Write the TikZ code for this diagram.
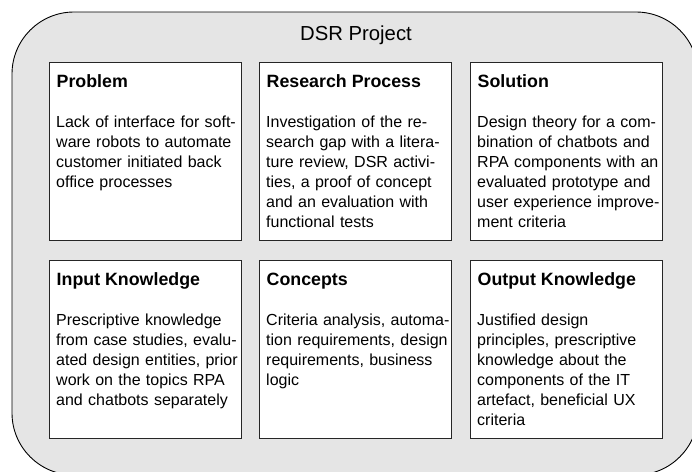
\documentclass[tikz,border=0pt]{standalone}
\usepackage{fontspec}
\setmainfont{Liberation Sans}
\begin{document}
\begin{tikzpicture}[x=1pt,y=-1pt,
  frame/.style={draw=black,line width=0.9pt,fill=black!10,rounded corners=62pt},
  panel/.style={draw=black!85,line width=1pt,fill=white,anchor=north west,
    minimum width=192pt,minimum height=178pt,inner sep=0pt},
  head/.style={anchor=base west,inner sep=0pt,font=\fontsize{17.8}{20}\selectfont\bfseries},
  body/.style={anchor=base west,inner sep=0pt,text width=186pt,align=left,
    font=\fontsize{16}{20}\selectfont}]
\path[use as bounding box,clip](0,0)rectangle(692,471);
\draw[frame](12,12)rectangle(698,475);
\node[anchor=base,inner sep=0pt,font=\fontsize{20.3}{24}\selectfont](title)at(356,40){DSR Project};
%
\foreach \nm/\x/\y/\hd/\bd in {
  prob/49/62/Problem/{Lack of interface for soft-\\ware robots to automate\\customer initiated back\\office processes},
  proc/259/62/Research Process/{Investigation of the re-\\search gap with a litera-\\ture review, DSR activi-\\ties, a proof of concept\\and an evaluation with\\functional tests},
  sol/470/62/Solution/{Design theory for a com-\\bination of chatbots and\\RPA components with an\\evaluated prototype and\\user experience improve-\\ment criteria},
  inp/49/260/Input Knowledge/{Prescriptive knowledge\\from case studies, evalu-\\ated design entities, prior\\work on the topics RPA\\and chatbots separately},
  conc/259/260/Concepts/{Criteria analysis, automa-\\tion requirements, design\\requirements, business\\logic},
  outp/470/260/Output Knowledge/{Justified design\\principles, prescriptive\\knowledge about the\\components of the IT\\artefact, beneficial UX\\criteria}}{
  \node[panel](\nm)at(\x,\y){};
  \node[head](\nm-hd)at([shift={(7.5,25.3)}]\nm.north west){\hd};
  \node[body](\nm-bd)at([shift={(7,65)}]\nm.north west){\bd};
}
\end{tikzpicture}
\end{document}
